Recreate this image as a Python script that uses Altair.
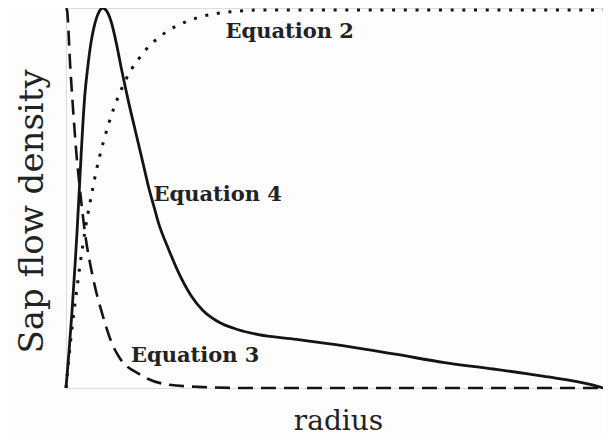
import altair as alt
import pandas as pd

# Equation 4 (solid)
eq4_x = [0, 0.0055, 0.0110, 0.0165, 0.0202, 0.0239, 0.0275, 0.0312, 0.0349, 0.0404, 0.0459, 0.0514,
         0.0569, 0.0624, 0.0679, 0.0734, 0.0789, 0.0844, 0.0899, 0.0954, 0.1028, 0.1101, 0.1174,
         0.1266, 0.1358, 0.1450, 0.1541, 0.1633, 0.1725, 0.1908, 0.2092, 0.2330, 0.2550, 0.2826,
         0.3193, 0.3560, 0.429, 0.521, 0.613, 0.705, 0.796, 0.888, 0.98, 1.0]
eq4_y = [0, 0.094, 0.198, 0.316, 0.402, 0.499, 0.595, 0.689, 0.768, 0.843, 0.903, 0.945,
         0.974, 0.992, 1.0, 0.996, 0.984, 0.963, 0.932, 0.896, 0.843, 0.794, 0.747,
         0.692, 0.637, 0.582, 0.527, 0.480, 0.433, 0.366, 0.305, 0.243, 0.204, 0.175,
         0.154, 0.141, 0.128, 0.110, 0.089, 0.067, 0.050, 0.031, 0.008, 0.0]

# Equation 2 (dotted)
eq2_x = [0, 0.0128, 0.0202, 0.0257, 0.0312, 0.0404, 0.0477, 0.0569, 0.0692, 0.0783, 0.0875, 0.1028,
         0.1211, 0.1334, 0.1455, 0.1609, 0.1761, 0.1908, 0.222, 0.246, 0.306, 0.374, 1.0]
eq2_y = [0, 0.178, 0.26, 0.32, 0.375, 0.455, 0.51, 0.575, 0.645, 0.69, 0.73, 0.785,
         0.837, 0.862, 0.885, 0.908, 0.926, 0.941, 0.963, 0.975, 0.990, 0.995, 0.995]

# Equation 3 (dashed)
eq3_x = [0, 0.0018, 0.0079, 0.0141, 0.0202, 0.0233, 0.0349, 0.0495, 0.0679, 0.0862, 0.0991,
         0.1358, 0.1853, 0.246, 0.338, 1.0]
eq3_y = [1.0, 0.995, 0.846, 0.715, 0.603, 0.559, 0.413, 0.295, 0.193, 0.115, 0.081,
         0.037, 0.010, 0.003, 0.0, 0.0]

label_text = ["Equation 2", "Equation 4", "Equation 3"]
label_x = [0.297, 0.163, 0.121]
label_y = [0.922, 0.491, 0.068]

xs = alt.Scale(domain=[0, 1], nice=False, zero=False)
ys = alt.Scale(domain=[0, 1], nice=False, zero=False)

def line(xv, yv, dash, width):
    df = pd.DataFrame({"r": xv, "v": yv, "o": list(range(len(xv)))})
    if dash:
        m = alt.Chart(df).mark_line(color="#141414", strokeWidth=width, strokeDash=dash,
                                    strokeCap="butt", interpolate="monotone")
    else:
        m = alt.Chart(df).mark_line(color="#141414", strokeWidth=width, interpolate="monotone")
    return m.encode(
        x=alt.X("r:Q", scale=xs,
                axis=alt.Axis(title="radius", labels=False, ticks=False, domain=False, grid=False,
                              titleFont="DejaVu Serif", titleFontSize=28, titleFontWeight="normal",
                              titleColor="#222222", titleBaseline="alphabetic", titleX=272, titleY=41)),
        y=alt.Y("v:Q", scale=ys,
                axis=alt.Axis(title="Sap flow density", labels=False, ticks=False, domain=False, grid=False,
                              titleFont="DejaVu Serif", titleFontSize=34, titleFontWeight="normal",
                              titleColor="#222222", titleBaseline="alphabetic", titleX=-24, titleY=203,
                              titleAlign="center", titleAngle=270)),
        order="o:Q",
    )

eq4 = line(eq4_x, eq4_y, None, 2.8)
eq2 = line(eq2_x, eq2_y, [3, 8.7], 3)
eq3 = line(eq3_x, eq3_y, [15, 8], 2.6)

labels = alt.Chart(pd.DataFrame({"t": label_text, "x": label_x, "y": label_y})).mark_text(
    font="DejaVu Serif", fontSize=21, fontWeight="bold", align="left", baseline="alphabetic", color="#222222"
).encode(x=alt.X("x:Q", scale=xs), y=alt.Y("y:Q", scale=ys), text="t:N")

chart = alt.layer(eq2, eq3, eq4, labels).properties(
    width=537, height=380,
    padding={"left": 58, "top": 0, "right": 0, "bottom": 48},
    autosize=alt.AutoSizeParams(type="none"),
).configure_view(stroke="#808080", strokeWidth=1).configure(background="#fdfdfd")

chart.save("out.html", embed_options={"renderer": "svg", "actions": False})
